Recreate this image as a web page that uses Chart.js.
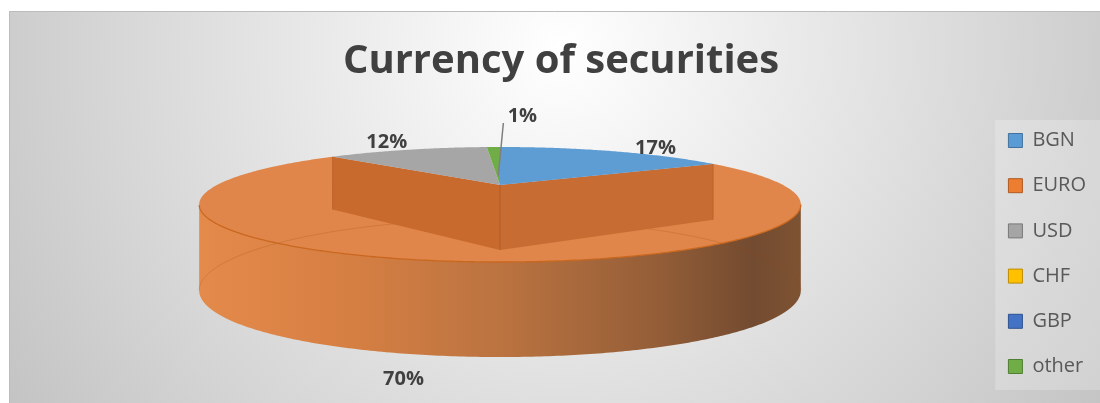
<!DOCTYPE html>
<html>
<head>
<meta charset="utf-8">
<title>Currency of securities</title>
<script src="https://cdn.jsdelivr.net/npm/chart.js@4.4.1/dist/chart.umd.min.js"></script>
<style>
  html, body { margin: 0; padding: 0; background: #fff; }
  #wrap { width: 1100px; height: 403px; }
</style>
</head>
<body>
<div id="wrap"><canvas id="chart" width="1100" height="403"></canvas></div>
<script>
const currencies = ['BGN', 'EURO', 'USD', 'CHF', 'GBP', 'other'];
const shares = [17, 70, 12, 0, 0, 1];

// legend swatches (Office palette) and the shaded top faces of the disc
const swatchColors = ['#5b9bd5', '#ed7d31', '#a5a5a5', '#ffc000', '#4472c4', '#70ad47'];
const swatchBorders = ['#41719c', '#ae5a21', '#787878', '#bc8c00', '#2f528f', '#507e32'];
const faceColors = ['#5e9cd4', '#e0864a', '#a6a6a6', '#ffc000', '#4472c4', '#70ad47'];

// where each percentage sits relative to the rim point of its slice
const labelNudge = [[44, -3], [-43, 118], [-21, -7], [0, 0], [0, 0], [29, -31]];

// perspective view of the disc
const view = {
  cx: 500, cy: 185,     // centre of the top face
  rx: 283, ry: 50.9,    // radii before perspective
  tilt: 0.339,          // how much the far side shrinks
  rimDepth: 82, rimTilt: 0.137,
  wallDepth: 65
};

function project(theta, r) {
  const u = r * Math.cos(theta), v = -r * Math.sin(theta);
  const k = 1 + view.tilt * v;
  return { x: view.cx + view.rx * u / k, y: view.cy - view.ry * v / k, v: v };
}
const rimDepth = v => view.rimDepth / (1 + view.rimTilt * v);
const wallDepth = v => view.wallDepth / (1 + view.tilt * v);

const panelBackground = {
  id: 'panelBackground',
  beforeDraw(chart) {
    const ctx = chart.ctx;
    ctx.save();
    const g = ctx.createRadialGradient(560, 50, 0, 560, 50, 650);
    g.addColorStop(0, '#ffffff');
    g.addColorStop(1, '#c4c4c4');
    ctx.fillStyle = g;
    ctx.fillRect(9, 11, 1091, 392);
    ctx.strokeStyle = '#bcbcbc';
    ctx.lineWidth = 1;
    ctx.beginPath();
    ctx.moveTo(9.5, 403);
    ctx.lineTo(9.5, 11.5);
    ctx.lineTo(1100, 11.5);
    ctx.stroke();
    // faint panel behind the legend
    const lg = chart.legend;
    ctx.fillStyle = 'rgba(255,255,255,0.22)';
    ctx.fillRect(lg.left + 12, lg.top + 16, 1100 - lg.left - 12, lg.bottom - lg.top - 29);
    ctx.restore();
  }
};

function slicePath(ctx, a0, a1) {
  ctx.beginPath();
  ctx.moveTo(view.cx, view.cy);
  const n = Math.max(2, Math.ceil((a1 - a0) / 0.01));
  for (let i = 0; i <= n; i++) {
    const p = project(a0 + (a1 - a0) * i / n, 1);
    ctx.lineTo(p.x, p.y);
  }
  ctx.closePath();
}

const disc3d = {
  id: 'disc3d',
  beforeDatasetsDraw(chart) {
    const ctx = chart.ctx;
    const arcs = chart.getDatasetMeta(0).data;
    const total = shares.reduce((a, b) => a + b, 0);
    const big = shares.indexOf(Math.max(...shares));
    const sil = Math.asin(view.tilt);   // rim is seen between these canvas angles
    ctx.save();

    // outer rim of the front slices
    arcs.forEach((arc, i) => {
      const a0 = Math.max(arc.startAngle, sil);
      const a1 = Math.min(arc.endAngle, Math.PI - sil);
      if (a1 <= a0) return;
      const top = [], n = Math.ceil((a1 - a0) / 0.01);
      for (let k = 0; k <= n; k++) top.push(project(a0 + (a1 - a0) * k / n, 1));
      const g = ctx.createLinearGradient(view.cx - 301, 0, view.cx + 301, 0);
      g.addColorStop(0, '#e48a4b');
      g.addColorStop(0.25, '#d67f43');
      g.addColorStop(0.5, '#bb7340');
      g.addColorStop(0.75, '#965f38');
      g.addColorStop(0.92, '#734b30');
      g.addColorStop(1, '#7e5333');
      ctx.fillStyle = g;
      ctx.beginPath();
      top.forEach((p, k) => k ? ctx.lineTo(p.x, p.y) : ctx.moveTo(p.x, p.y));
      for (let k = top.length - 1; k >= 0; k--) ctx.lineTo(top[k].x, top[k].y + rimDepth(top[k].v));
      ctx.closePath();
      ctx.fill();
    });

    // top face of the large slice
    const bigArc = arcs[big];
    ctx.fillStyle = faceColors[big];
    slicePath(ctx, bigArc.startAngle, bigArc.endAngle);
    ctx.fill();

    // far edge of the base, showing faintly through the disc
    ctx.strokeStyle = 'rgba(150,70,20,0.22)';
    ctx.lineWidth = 1;
    ctx.beginPath();
    for (let t = Math.PI - sil; t <= 2 * Math.PI + sil; t += 0.01) {
      const p = project(t, 1);
      const y = p.y + rimDepth(p.v);
      t === Math.PI - sil ? ctx.moveTo(p.x, y) : ctx.lineTo(p.x, y);
    }
    ctx.stroke();

    // cut faces of the large slice
    [[bigArc.endAngle, '#c8692e'], [bigArc.startAngle, '#c76c33']].forEach(([a, col]) => {
      const p = project(a, 1);
      const d0 = wallDepth(0), d1 = wallDepth(p.v);
      ctx.fillStyle = col;
      ctx.beginPath();
      ctx.moveTo(view.cx, view.cy);
      ctx.lineTo(p.x, p.y);
      ctx.lineTo(p.x, p.y + d1);
      ctx.lineTo(view.cx, view.cy + d0);
      ctx.closePath();
      ctx.fill();
      ctx.strokeStyle = 'rgba(170,80,25,0.45)';
      ctx.beginPath();
      ctx.moveTo(p.x, p.y);
      ctx.lineTo(p.x, p.y + d1);
      ctx.stroke();
    });
    ctx.strokeStyle = 'rgba(170,80,25,0.5)';
    ctx.beginPath();
    ctx.moveTo(view.cx, view.cy);
    ctx.lineTo(view.cx, view.cy + wallDepth(0));
    ctx.stroke();

    // top faces of the remaining slices
    arcs.forEach((arc, i) => {
      if (i === big || arc.endAngle - arc.startAngle <= 0) return;
      ctx.fillStyle = faceColors[i];
      slicePath(ctx, arc.startAngle, arc.endAngle);
      ctx.fill();
    });

    // front edge of the top face
    ctx.strokeStyle = '#c9671f';
    ctx.lineWidth = 1.3;
    ctx.beginPath();
    for (let t = sil; t <= Math.PI - sil; t += 0.01) {
      const p = project(t, 1);
      t === sil ? ctx.moveTo(p.x, p.y) : ctx.lineTo(p.x, p.y);
    }
    ctx.stroke();

    // percentage labels
    ctx.font = 'bold 20px "Open Sans"';
    ctx.fillStyle = '#404040';
    ctx.textAlign = 'center';
    ctx.textBaseline = 'middle';
    arcs.forEach((arc, i) => {
      if (!shares[i]) return;
      const mid = (arc.startAngle + arc.endAngle) / 2;
      const p = project(mid, 1);
      const x = p.x + labelNudge[i][0], y = p.y + labelNudge[i][1];
      const slim = arc.endAngle - arc.startAngle < 0.1;
      if (slim) {
        const s = project(mid, 0.2);
        ctx.strokeStyle = '#7f7f7f';
        ctx.lineWidth = 1.5;
        ctx.beginPath();
        ctx.moveTo(s.x, s.y);
        ctx.lineTo(x - 19, y + 7);
        ctx.stroke();
      }
      ctx.fillText(Math.round(shares[i] / total * 100) + '%', x, y);
    });

    ctx.restore();
    return false;
  }
};

const ctx = document.getElementById('chart').getContext('2d');

const myChart = new Chart(ctx, {
  type: 'pie',
  data: {
    labels: currencies,
    datasets: [{
      data: shares,
      backgroundColor: swatchColors,
      borderColor: swatchBorders,
      borderWidth: 1
    }]
  },
  options: {
    responsive: false,
    animation: false,
    layout: { padding: { top: 28, left: 26, right: 4, bottom: 0 } },
    plugins: {
      title: {
        display: true,
        text: 'Currency of securities',
        color: '#404040',
        font: { family: 'Open Sans', size: 40, weight: 'bold' },
        padding: { top: 10, bottom: 18 }
      },
      legend: {
        position: 'right',
        fullSize: false,
        labels: {
          boxWidth: 14,
          boxHeight: 14,
          padding: 25.2,
          color: '#595959',
          font: { family: 'Open Sans', size: 20 }
        }
      },
      tooltip: { enabled: false }
    }
  },
  plugins: [panelBackground, disc3d]
});
</script>
</body>
</html>
